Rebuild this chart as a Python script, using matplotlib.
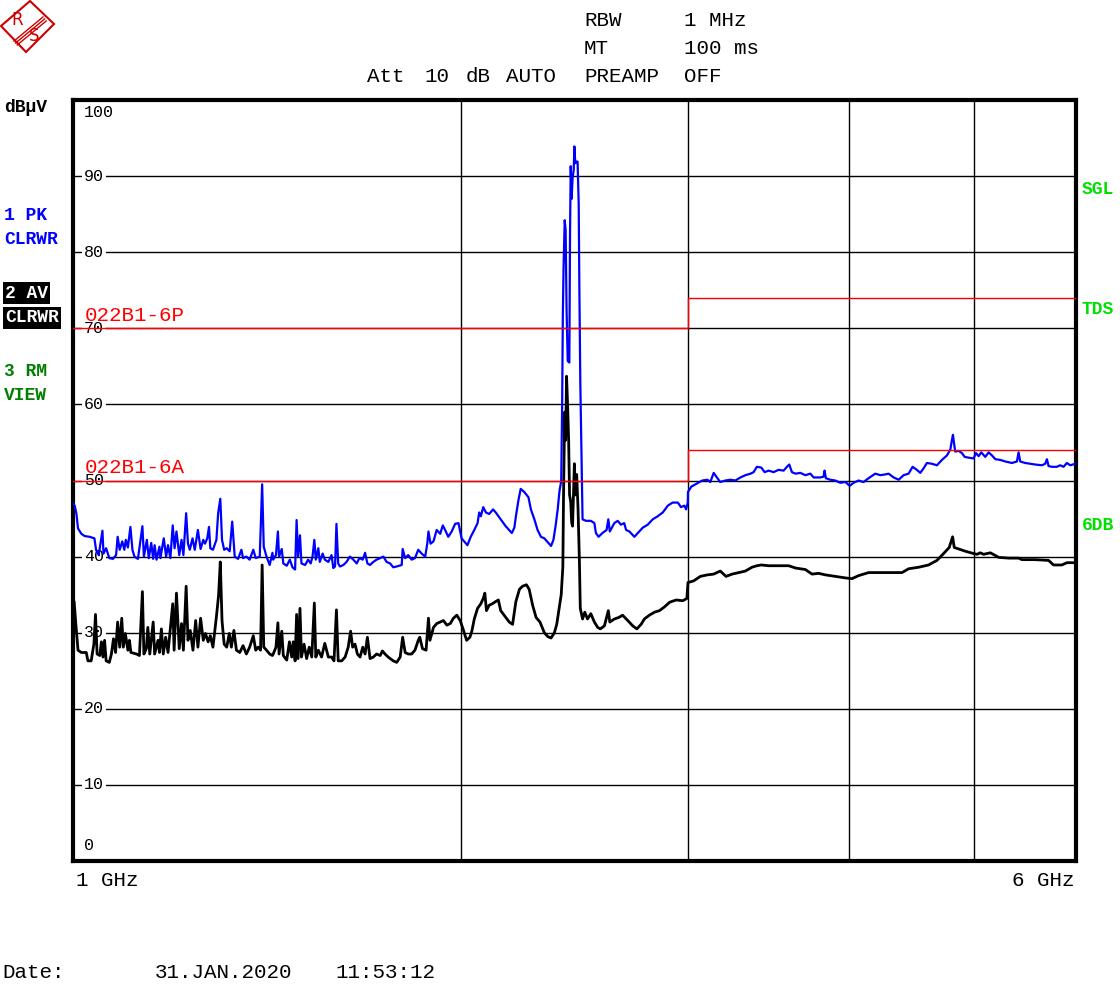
import matplotlib
matplotlib.use("Agg")
import matplotlib.pyplot as plt
import matplotlib.transforms as mtransforms
from matplotlib.patches import Polygon
from matplotlib.ticker import NullLocator

# trace 1: peak (blue), (GHz, dBuV)
peak_trace = [
    (1.000, 47.0), (1.003, 46.7), (1.006, 45.7), (1.009, 43.7), (1.015, 43.0), (1.021, 42.7), (1.030, 42.6), (1.039, 42.4), (1.042, 40.9), (1.047, 40.2),
    (1.054, 43.4), (1.056, 40.4), (1.061, 41.1), (1.067, 39.8), (1.074, 39.7), (1.080, 40.2), (1.083, 42.6), (1.087, 40.9), (1.092, 42.0), (1.096, 40.9),
    (1.099, 42.2), (1.103, 41.2), (1.108, 43.9), (1.112, 40.9), (1.116, 40.0), (1.123, 39.7), (1.132, 44.0), (1.135, 40.0), (1.141, 42.2), (1.145, 39.8),
    (1.150, 41.8), (1.154, 39.7), (1.157, 41.5), (1.161, 39.6), (1.167, 41.3), (1.169, 39.8), (1.176, 42.4), (1.181, 40.0), (1.185, 41.5), (1.190, 39.8),
    (1.195, 44.1), (1.199, 41.1), (1.203, 43.3), (1.209, 40.2), (1.214, 42.2), (1.218, 40.2), (1.224, 45.7), (1.228, 41.7), (1.232, 40.9), (1.238, 42.4),
    (1.243, 40.9), (1.250, 43.5), (1.256, 41.0), (1.262, 42.2), (1.266, 41.7), (1.271, 42.4), (1.275, 43.9), (1.278, 41.1), (1.284, 40.9), (1.292, 42.2),
    (1.296, 45.7), (1.301, 47.6), (1.305, 42.2), (1.310, 40.9), (1.316, 41.1), (1.323, 40.7), (1.329, 44.6), (1.335, 40.0), (1.343, 39.7), (1.351, 40.9),
    (1.355, 39.8), (1.363, 40.0), (1.371, 39.6), (1.380, 40.9), (1.386, 39.8), (1.396, 40.0), (1.402, 49.5), (1.406, 41.3), (1.413, 40.0), (1.421, 38.9),
    (1.428, 40.5), (1.430, 39.6), (1.437, 40.2), (1.442, 43.3), (1.445, 40.0), (1.452, 41.0), (1.456, 39.1), (1.465, 38.8), (1.473, 39.6), (1.480, 38.6),
    (1.487, 38.3), (1.491, 44.8), (1.495, 40.0), (1.500, 42.8), (1.504, 39.1), (1.514, 38.9), (1.522, 39.6), (1.529, 39.1), (1.534, 40.0), (1.539, 42.2),
    (1.543, 39.6), (1.550, 41.1), (1.554, 39.3), (1.562, 40.4), (1.568, 39.6), (1.578, 39.3), (1.587, 40.2), (1.592, 38.5), (1.597, 38.7), (1.601, 44.3),
    (1.606, 39.1), (1.611, 38.7), (1.621, 38.9), (1.630, 39.3), (1.640, 40.0), (1.650, 39.6), (1.660, 39.1), (1.668, 39.8), (1.678, 39.6), (1.685, 40.5),
    (1.692, 39.1), (1.700, 38.9), (1.710, 39.3), (1.720, 39.6), (1.731, 39.8), (1.741, 40.0), (1.751, 39.3), (1.762, 39.1), (1.772, 38.6), (1.783, 38.7),
    (1.799, 38.9), (1.802, 41.0), (1.810, 39.8), (1.820, 40.2), (1.831, 39.6), (1.842, 39.8), (1.853, 40.9), (1.864, 40.4), (1.876, 40.0), (1.883, 41.7),
    (1.887, 43.3), (1.894, 41.7), (1.904, 42.0), (1.915, 43.5), (1.927, 43.0), (1.936, 44.1), (1.944, 43.5), (1.955, 42.6), (1.967, 43.3), (1.979, 44.3),
    (1.991, 44.4), (2.002, 42.4), (2.023, 41.5), (2.035, 42.6), (2.048, 43.5), (2.060, 44.4), (2.066, 45.8), (2.072, 45.3), (2.081, 46.5), (2.091, 45.8),
    (2.103, 45.6), (2.118, 46.2), (2.128, 45.8), (2.147, 44.9), (2.166, 44.0), (2.190, 43.1), (2.200, 43.8), (2.206, 45.3), (2.216, 47.4), (2.225, 48.9),
    (2.239, 48.5), (2.256, 47.8), (2.266, 46.2), (2.280, 44.9), (2.293, 43.5), (2.307, 42.6), (2.321, 42.4), (2.335, 41.9), (2.349, 41.4), (2.359, 42.2),
    (2.368, 44.0), (2.377, 46.2), (2.385, 48.7), (2.392, 49.9), (2.396, 59.8), (2.399, 71.8), (2.402, 77.9), (2.407, 84.2), (2.411, 82.9), (2.415, 72.5),
    (2.420, 65.7), (2.427, 65.5), (2.430, 82.4), (2.433, 91.3), (2.437, 87.0), (2.441, 89.7), (2.446, 90.8), (2.449, 93.9), (2.453, 91.7), (2.458, 91.9),
    (2.463, 91.9), (2.468, 86.3), (2.471, 74.8), (2.475, 63.0), (2.480, 53.9), (2.485, 44.9), (2.500, 44.7), (2.522, 44.7), (2.538, 44.4), (2.545, 43.1),
    (2.557, 42.6), (2.575, 43.1), (2.594, 43.5), (2.602, 44.9), (2.609, 43.3), (2.630, 44.4), (2.646, 44.7), (2.661, 44.2), (2.677, 44.4), (2.686, 43.5),
    (2.702, 43.3), (2.726, 42.6), (2.743, 43.1), (2.767, 43.8), (2.792, 44.2), (2.817, 44.9), (2.842, 45.3), (2.868, 45.8), (2.894, 46.7), (2.919, 47.1),
    (2.946, 47.1), (2.963, 46.5), (2.981, 46.7), (2.990, 46.2), (2.999, 47.1), (3.000, 48.5), (3.018, 49.2), (3.048, 49.6), (3.078, 50.0), (3.106, 50.1),
    (3.122, 49.8), (3.141, 51.0), (3.162, 50.3), (3.178, 49.8), (3.207, 50.0), (3.236, 50.1), (3.265, 50.0), (3.295, 50.4), (3.324, 50.7), (3.355, 50.9),
    (3.373, 51.1), (3.393, 51.8), (3.420, 51.7), (3.440, 51.1), (3.465, 51.3), (3.496, 51.1), (3.527, 51.4), (3.559, 51.3), (3.580, 51.8), (3.595, 52.1),
    (3.612, 51.1), (3.635, 50.9), (3.667, 51.0), (3.700, 50.7), (3.733, 50.9), (3.755, 50.4), (3.800, 50.4), (3.822, 50.5), (3.829, 51.3), (3.838, 50.3),
    (3.868, 50.1), (3.903, 50.0), (3.938, 49.7), (3.974, 49.8), (4.005, 49.3), (4.033, 49.7), (4.069, 50.0), (4.105, 49.8), (4.142, 50.3), (4.167, 50.6),
    (4.192, 50.9), (4.230, 50.7), (4.268, 50.8), (4.293, 50.9), (4.332, 50.4), (4.371, 50.1), (4.410, 50.7), (4.449, 50.9), (4.481, 51.8), (4.515, 51.4),
    (4.543, 51.0), (4.570, 51.6), (4.597, 52.3), (4.638, 52.2), (4.680, 52.0), (4.722, 52.7), (4.765, 53.3), (4.794, 54.1), (4.807, 55.3), (4.816, 56.0),
    (4.827, 54.7), (4.836, 53.8), (4.865, 53.9), (4.894, 53.6), (4.918, 53.1), (4.953, 53.0), (4.997, 52.9), (5.018, 53.6), (5.042, 53.2), (5.066, 53.7),
    (5.102, 53.1), (5.133, 53.7), (5.163, 53.3), (5.195, 52.8), (5.242, 52.7), (5.288, 52.5), (5.351, 52.3), (5.399, 52.5), (5.415, 53.7), (5.431, 52.5),
    (5.480, 52.3), (5.529, 52.2), (5.578, 52.1), (5.645, 52.0), (5.679, 52.2), (5.696, 52.8), (5.713, 51.9), (5.747, 51.8), (5.798, 51.8), (5.833, 52.0),
    (5.868, 51.8), (5.903, 52.3), (5.939, 52.0), (5.992, 52.2), (6.000, 52.2),
]

# trace 2: average (black)
avg_trace = [
    (1.000, 34.0), (1.002, 34.1), (1.005, 31.2), (1.009, 27.7), (1.015, 27.4), (1.024, 27.4), (1.027, 26.3), (1.033, 26.3), (1.038, 28.5), (1.041, 32.4),
    (1.044, 27.2), (1.049, 27.0), (1.052, 28.8), (1.055, 26.8), (1.058, 29.0), (1.061, 26.3), (1.067, 26.1), (1.071, 27.2), (1.075, 29.2), (1.079, 27.4),
    (1.083, 31.4), (1.087, 28.1), (1.091, 31.9), (1.094, 28.1), (1.098, 29.9), (1.103, 27.7), (1.106, 29.0), (1.109, 27.4), (1.120, 27.2), (1.126, 27.0),
    (1.132, 35.4), (1.135, 27.2), (1.140, 27.9), (1.143, 30.7), (1.147, 27.2), (1.154, 31.4), (1.157, 27.2), (1.164, 29.0), (1.167, 27.4), (1.171, 30.5),
    (1.175, 27.2), (1.180, 29.4), (1.185, 27.4), (1.195, 33.8), (1.198, 27.7), (1.203, 35.2), (1.209, 27.9), (1.214, 31.2), (1.218, 27.7), (1.224, 36.1),
    (1.228, 29.0), (1.233, 30.3), (1.239, 27.7), (1.245, 31.6), (1.250, 28.1), (1.256, 31.9), (1.262, 29.0), (1.267, 29.9), (1.273, 28.8), (1.278, 29.6),
    (1.284, 28.1), (1.292, 32.1), (1.297, 34.9), (1.301, 39.3), (1.305, 31.6), (1.310, 28.5), (1.316, 28.1), (1.322, 29.9), (1.327, 28.1), (1.333, 30.3),
    (1.339, 27.7), (1.347, 27.4), (1.355, 28.3), (1.363, 27.2), (1.371, 28.1), (1.380, 29.6), (1.386, 27.7), (1.392, 28.1), (1.398, 27.7), (1.402, 38.9),
    (1.406, 28.1), (1.413, 27.7), (1.421, 27.2), (1.428, 27.0), (1.430, 27.2), (1.437, 28.1), (1.442, 31.3), (1.445, 27.2), (1.452, 30.2), (1.456, 27.0),
    (1.465, 26.4), (1.472, 28.8), (1.478, 26.8), (1.482, 28.8), (1.487, 26.3), (1.491, 32.4), (1.495, 26.6), (1.500, 33.2), (1.504, 26.8), (1.511, 28.5),
    (1.518, 26.6), (1.525, 28.1), (1.532, 26.8), (1.539, 33.9), (1.543, 26.8), (1.550, 27.7), (1.559, 26.8), (1.568, 28.6), (1.578, 26.8), (1.587, 26.8),
    (1.594, 26.3), (1.601, 33.0), (1.606, 26.3), (1.616, 26.3), (1.626, 26.8), (1.635, 28.1), (1.642, 30.2), (1.648, 28.1), (1.655, 28.5), (1.662, 27.2),
    (1.670, 26.8), (1.678, 28.1), (1.685, 27.2), (1.692, 29.4), (1.700, 26.6), (1.710, 26.8), (1.720, 27.2), (1.731, 27.0), (1.738, 27.6), (1.746, 27.2),
    (1.756, 26.8), (1.772, 26.3), (1.783, 26.1), (1.794, 26.8), (1.802, 29.4), (1.810, 27.4), (1.820, 27.2), (1.831, 27.2), (1.842, 27.7), (1.853, 29.0),
    (1.858, 29.4), (1.867, 27.9), (1.879, 27.7), (1.887, 31.9), (1.892, 29.0), (1.904, 30.7), (1.915, 31.2), (1.927, 31.4), (1.938, 31.6), (1.950, 31.0),
    (1.962, 31.2), (1.973, 31.9), (1.985, 32.3), (1.997, 31.6), (2.009, 30.3), (2.020, 29.0), (2.032, 29.4), (2.039, 30.2), (2.048, 31.8), (2.060, 33.2),
    (2.072, 33.8), (2.081, 34.5), (2.087, 35.2), (2.093, 32.9), (2.103, 33.6), (2.115, 33.8), (2.128, 34.1), (2.138, 34.3), (2.147, 32.9), (2.160, 32.3),
    (2.180, 31.4), (2.193, 31.1), (2.200, 32.7), (2.206, 34.1), (2.220, 35.7), (2.232, 36.1), (2.248, 36.3), (2.259, 35.7), (2.273, 33.6), (2.287, 32.0),
    (2.303, 31.4), (2.321, 30.0), (2.335, 29.5), (2.349, 29.3), (2.363, 30.0), (2.373, 31.1), (2.385, 33.6), (2.392, 35.0), (2.399, 38.6), (2.402, 48.1),
    (2.407, 59.0), (2.411, 55.3), (2.415, 63.7), (2.420, 59.4), (2.424, 55.3), (2.428, 48.1), (2.433, 47.2), (2.437, 44.5), (2.441, 44.0), (2.449, 52.2),
    (2.453, 48.1), (2.459, 50.8), (2.465, 46.3), (2.471, 39.5), (2.475, 33.2), (2.485, 31.8), (2.495, 32.7), (2.507, 31.8), (2.522, 32.5), (2.538, 31.4),
    (2.553, 30.7), (2.565, 30.5), (2.584, 30.9), (2.602, 32.9), (2.609, 31.4), (2.630, 31.8), (2.651, 32.0), (2.669, 32.3), (2.694, 31.6), (2.718, 30.9),
    (2.738, 30.5), (2.759, 31.1), (2.775, 31.8), (2.800, 32.3), (2.826, 32.7), (2.851, 32.9), (2.877, 33.4), (2.903, 34.0), (2.937, 34.3), (2.972, 34.2),
    (2.994, 34.5), (3.000, 36.6), (3.030, 36.8), (3.067, 37.4), (3.106, 37.6), (3.141, 37.7), (3.178, 38.1), (3.211, 37.4), (3.246, 37.7), (3.285, 37.9),
    (3.324, 38.1), (3.363, 38.6), (3.393, 38.8), (3.420, 38.9), (3.465, 38.8), (3.527, 38.8), (3.591, 38.8), (3.635, 38.5), (3.700, 38.3), (3.744, 37.7),
    (3.789, 37.8), (3.834, 37.6), (3.903, 37.4), (3.974, 37.2), (4.021, 37.1), (4.069, 37.5), (4.142, 37.9), (4.218, 37.9), (4.319, 37.9), (4.397, 37.9),
    (4.449, 38.4), (4.529, 38.6), (4.611, 38.9), (4.680, 39.5), (4.736, 40.4), (4.784, 41.2), (4.813, 42.6), (4.827, 41.2), (4.865, 41.0), (4.925, 40.7),
    (4.997, 40.4), (5.027, 40.3), (5.057, 40.5), (5.087, 40.3), (5.149, 40.5), (5.226, 39.9), (5.320, 39.8), (5.415, 39.8), (5.448, 39.6), (5.578, 39.6),
    (5.713, 39.5), (5.764, 38.9), (5.850, 38.9), (5.903, 39.2), (6.000, 39.2),
]

# limit lines
limit_p_freq = [1, 3, 3, 6]
limit_p_level = [70, 70, 74, 74]
limit_a_freq = [1, 3, 3, 6]
limit_a_level = [50, 50, 54, 54]
limit_names = ["022B1-6P", "022B1-6A"]

y_ticks = list(range(0, 101, 10))
x_grid = [2, 3, 4, 5]

W, H = 1120, 986
MONO = "Liberation Mono"

fig = plt.figure(figsize=(W / 100, H / 100), dpi=100)
fig.patch.set_facecolor("white")


def px(x, y):
    return x / W, 1 - y / H


ax = fig.add_axes([73 / W, 1 - 861 / H, (1076 - 73) / W, (861 - 100) / H])
ax.set_xscale("log")
ax.set_xlim(1, 6)
ax.set_ylim(0, 100)
ax.set_xticks(x_grid)
ax.xaxis.set_minor_locator(NullLocator())
ax.set_yticks(y_ticks)
ax.tick_params(length=0, labelbottom=False, labelleft=False)
ax.grid(True, color="black", lw=1)
ax.set_axisbelow(True)
for s in ax.spines.values():
    s.set_linewidth(3)

pf, pl = zip(*peak_trace)
af, al = zip(*avg_trace)
ax.plot(af, al, color="black", lw=2, zorder=3)
ax.plot(pf, pl, color="#0000ff", lw=1.6, zorder=4)
ax.plot(limit_p_freq, limit_p_level, color="red", lw=1, zorder=5)
ax.plot(limit_a_freq, limit_a_level, color="red", lw=1, zorder=5)

# y labels inside plot, on the grid lines
trans = mtransforms.blended_transform_factory(ax.transAxes, ax.transData)
for v in y_ticks:
    if v == 100:
        ax.text(0.011, 99.3, str(v), transform=trans, va="top", ha="left", family=MONO, fontsize=12, zorder=1.5)
    elif v == 0:
        ax.text(0.011, 1.0, str(v), transform=trans, va="bottom", ha="left", family=MONO, fontsize=12, zorder=1.5)
    else:
        ax.text(0.011, v, str(v), transform=trans, va="center", ha="left", family=MONO, fontsize=12, zorder=1.5,
                bbox=dict(fc="white", ec="none", pad=1.5))

ax.text(0.012, limit_p_level[0] + 0.4, limit_names[0], transform=trans, va="bottom", ha="left",
        family=MONO, fontsize=15, color="red", zorder=6)
ax.text(0.012, limit_a_level[0] + 0.4, limit_names[1], transform=trans, va="bottom", ha="left",
        family=MONO, fontsize=15, color="red", zorder=6)

# header
hdr = dict(family=MONO, fontsize=15, va="center", ha="left", color="black")
for txt, x, y in [("RBW", 584, 20), ("1 MHz", 684, 20), ("MT", 584, 48), ("100 ms", 684, 48),
                  ("Att", 367, 77), ("10", 424, 77), ("dB", 466, 77), ("AUTO", 506, 77),
                  ("PREAMP", 584, 77), ("OFF", 684, 77),
                  ("1 GHz", 76, 880), ("Date:", 2, 973), ("31.JAN.2020", 155, 973), ("11:53:12", 335, 973)]:
    fig.text(*px(x, y), txt, **hdr)
fig.text(*px(1074, 880), "6 GHz", family=MONO, fontsize=15, va="center", ha="right")

# side labels
side = dict(family=MONO, fontsize=13, fontweight="bold", va="center", ha="left")
fig.text(*px(4, 108), "dB\u00b5V", color="black", **side)
fig.text(*px(4, 215), "1 PK", color="#0000ff", **side)
fig.text(*px(4, 240), "CLRWR", color="#0000ff", **side)
fig.text(*px(5, 293), "2 AV", color="white", bbox=dict(fc="black", ec="none", pad=1.5), **side)
fig.text(*px(5, 318), "CLRWR", color="white", bbox=dict(fc="black", ec="none", pad=1.5), **side)
fig.text(*px(4, 371), "3 RM", color="#008000", **side)
fig.text(*px(4, 396), "VIEW", color="#008000", **side)
for txt, y in [("SGL", 190), ("TDS", 310), ("6DB", 525)]:
    fig.text(*px(1082, y), txt, color="#00e000", **side)

# R&S logo
lax = fig.add_axes([0, 1 - 54 / H, 56 / W, 54 / H])
lax.set_xlim(0, 56)
lax.set_ylim(54, 0)
lax.axis("off")
lax.add_patch(Polygon([(1, 26), (30, 1), (54, 24), (26, 52)], closed=True, fill=False, ec="#cc0000", lw=1.5))
for d in (0, 2, 4):
    lax.plot([43 + d * 0.8, 14 + d * 0.8], [17 + d, 41 + d], color="#cc0000", lw=1)
lax.text(17, 20, "R", color="#cc0000", family="DejaVu Sans", fontsize=12, ha="center", va="center")
lax.text(34, 36, "S", color="#cc0000", family="DejaVu Sans", fontsize=12, ha="center", va="center")

fig.savefig("out.png", dpi=100)
